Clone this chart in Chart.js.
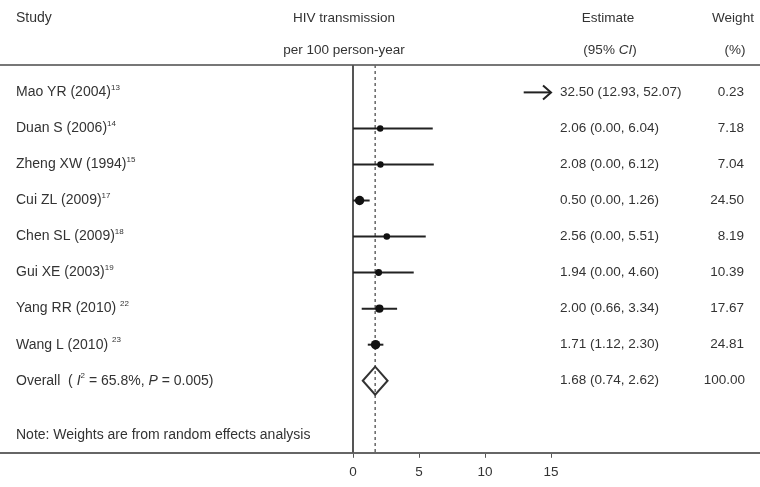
<!DOCTYPE html>
<html>
<head>
<meta charset="utf-8">
<script src="https://cdn.jsdelivr.net/npm/chart.js@4/dist/chart.umd.min.js"></script>
<style>
  html, body { margin: 0; padding: 0; background: #ffffff; }
  #wrap { width: 760px; height: 487px; }
</style>
</head>
<body>
<div id="wrap"><canvas id="c" width="760" height="487"></canvas></div>
<script>
// ---------------- data ----------------
const studies   = ["Mao YR (2004)", "Duan S (2006)", "Zheng XW (1994)", "Cui ZL (2009)",
                   "Chen SL (2009)", "Gui XE (2003)", "Yang RR (2010)", "Wang L (2010)"];
const refs      = ["13", "14", "15", "17", "18", "19", "22", "23"];
const refSpace  = [false, false, false, false, false, false, true, true];
const estimates = [32.50, 2.06, 2.08, 0.50, 2.56, 1.94, 2.00, 1.71];
const lowerCI   = [12.93, 0.00, 0.00, 0.00, 0.00, 0.00, 0.66, 1.12];
const upperCI   = [52.07, 6.04, 6.12, 1.26, 5.51, 4.60, 3.34, 2.30];
const weights   = [0.23, 7.18, 7.04, 24.50, 8.19, 10.39, 17.67, 24.81];
const overallEstimate = 1.68;
const overallLower = 0.74;
const overallUpper = 2.62;
const overallWeight = 100.00;
const xTickValues = [0, 5, 10, 15];
const axisDisplayMax = 15;

// ---------------- styling ----------------
const FONT = '"Liberation Sans", Arial, sans-serif';
const FS = 13.5;
const FS_LEFT = 14;
const TXT = '#333333';
const overallRow = studies.length;   // row index of overall line
const noteRow = studies.length + 1.5;

function drawRich(ctx, segs, x, y, align, size) {
  const fs = size || FS;
  const fontOf = s => (s.italic ? 'italic ' : '') + (s.sup ? 8 : fs) + 'px ' + FONT;
  let total = 0;
  segs.forEach(s => { ctx.font = fontOf(s); total += ctx.measureText(s.text).width; });
  let cx = align === 'center' ? x - total / 2 : (align === 'right' ? x - total : x);
  ctx.textAlign = 'left';
  ctx.textBaseline = 'middle';
  segs.forEach(s => {
    ctx.font = fontOf(s);
    ctx.fillText(s.text, cx, s.sup ? y - 5 : y);
    cx += ctx.measureText(s.text).width;
  });
}

const forestPlugin = {
  id: 'forest',
  beforeDatasetsDraw(chart) {
    const ctx = chart.ctx, xs = chart.scales.x, ys = chart.scales.y, a = chart.chartArea;
    ctx.save();
    // header line
    ctx.strokeStyle = '#777'; ctx.lineWidth = 2;
    ctx.beginPath(); ctx.moveTo(0, a.top); ctx.lineTo(chart.width, a.top); ctx.stroke();
    // no-effect line at 0
    const x0 = xs.getPixelForValue(0);
    ctx.strokeStyle = '#555'; ctx.lineWidth = 2;
    ctx.beginPath(); ctx.moveTo(x0, a.top); ctx.lineTo(x0, a.bottom); ctx.stroke();
    // overall dashed line
    const xo = xs.getPixelForValue(overallEstimate);
    ctx.strokeStyle = '#666'; ctx.lineWidth = 1.5; ctx.setLineDash([3, 3]);
    ctx.beginPath(); ctx.moveTo(xo, a.top); ctx.lineTo(xo, a.bottom); ctx.stroke();
    ctx.setLineDash([]);
    // CI lines
    ctx.strokeStyle = '#222'; ctx.lineWidth = 2;
    studies.forEach((s, i) => {
      const y = ys.getPixelForValue(i);
      const lo = xs.getPixelForValue(lowerCI[i]);
      const over = upperCI[i] > axisDisplayMax;
      const hi = xs.getPixelForValue(Math.min(upperCI[i], axisDisplayMax));
      ctx.beginPath(); ctx.moveTo(lo, y); ctx.lineTo(hi, y); ctx.stroke();
      if (over) {
        ctx.beginPath();
        ctx.moveTo(hi - 8, y - 7); ctx.lineTo(hi, y); ctx.lineTo(hi - 8, y + 7);
        ctx.stroke();
      }
    });
    // overall diamond
    const yc = ys.getPixelForValue(overallRow);
    const yt = ys.getPixelForValue(overallRow - 0.39);
    const yb = ys.getPixelForValue(overallRow + 0.39);
    ctx.strokeStyle = '#333'; ctx.lineWidth = 2;
    ctx.beginPath();
    ctx.moveTo(xs.getPixelForValue(overallLower), yc);
    ctx.lineTo(xo, yt);
    ctx.lineTo(xs.getPixelForValue(overallUpper), yc);
    ctx.lineTo(xo, yb);
    ctx.closePath(); ctx.stroke();
    ctx.restore();
  },
  afterDraw(chart) {
    const ctx = chart.ctx, ys = chart.scales.y;
    ctx.save();
    ctx.fillStyle = TXT;
    // headers
    drawRich(ctx, [{text: 'Study'}], 16, 18, 'left', FS_LEFT);
    drawRich(ctx, [{text: 'HIV transmission'}], 344, 18, 'center');
    drawRich(ctx, [{text: 'per 100 person-year'}], 344, 50, 'center');
    drawRich(ctx, [{text: 'Estimate'}], 608, 18, 'center');
    drawRich(ctx, [{text: '(95% '}, {text: 'CI', italic: true}, {text: ')'}], 610, 50, 'center');
    drawRich(ctx, [{text: 'Weight'}], 733, 18, 'center');
    drawRich(ctx, [{text: '(%)'}], 735, 50, 'center');
    // rows
    studies.forEach((s, i) => {
      const y = ys.getPixelForValue(i);
      drawRich(ctx, [{text: s + (refSpace[i] ? ' ' : '')}, {text: refs[i], sup: true}], 16, y, 'left', FS_LEFT);
      const est = estimates[i].toFixed(2) + ' (' + lowerCI[i].toFixed(2) + ', ' + upperCI[i].toFixed(2) + ')';
      drawRich(ctx, [{text: est}], 560, y, 'left');
      drawRich(ctx, [{text: weights[i].toFixed(2)}], 744, y, 'right');
    });
    const yo = ys.getPixelForValue(overallRow);
    drawRich(ctx, [{text: 'Overall  ( '}, {text: 'I', italic: true}, {text: '2', sup: true},
                   {text: ' = 65.8%, '}, {text: 'P', italic: true}, {text: ' = 0.005)'}], 16, yo, 'left', FS_LEFT);
    drawRich(ctx, [{text: overallEstimate.toFixed(2) + ' (' + overallLower.toFixed(2) + ', ' + overallUpper.toFixed(2) + ')'}], 560, yo, 'left');
    drawRich(ctx, [{text: overallWeight.toFixed(2)}], 745, yo, 'right');
    drawRich(ctx, [{text: 'Note: Weights are from random effects analysis'}], 16, ys.getPixelForValue(noteRow), 'left', FS_LEFT);
    ctx.restore();
  }
};

const chart = new Chart(document.getElementById('c'), {
  type: 'scatter',
  data: {
    datasets: [{
      data: estimates.map((e, i) => ({x: e, y: i})),
      pointRadius: estimates.map((e, i) => e > axisDisplayMax ? 0 : 2.6 + weights[i] * 0.085),
      pointHoverRadius: 0,
      backgroundColor: '#111',
      borderColor: '#111',
      borderWidth: 0
    }]
  },
  options: {
    responsive: false,
    animation: false,
    events: [],
    layout: { autoPadding: false, padding: { top: 65, bottom: 1, left: 0, right: 0 } },
    plugins: { legend: { display: false }, tooltip: { enabled: false } },
    scales: {
      x: {
        type: 'linear',
        min: -26.74,
        max: 30.83,
        afterBuildTicks: s => { s.ticks = xTickValues.map(v => ({value: v})); },
        grid: { display: true, drawOnChartArea: false, drawTicks: true, tickLength: 5, color: '#555', lineWidth: 1 },
        border: { display: true, color: '#666', width: 2 },
        ticks: { color: TXT, font: { family: FONT, size: FS }, padding: 6, autoSkip: false, maxRotation: 0 }
      },
      y: {
        type: 'linear',
        reverse: true,
        min: -0.76,
        max: 10,
        display: false
      }
    }
  },
  plugins: [forestPlugin]
});
</script>
</body>
</html>
